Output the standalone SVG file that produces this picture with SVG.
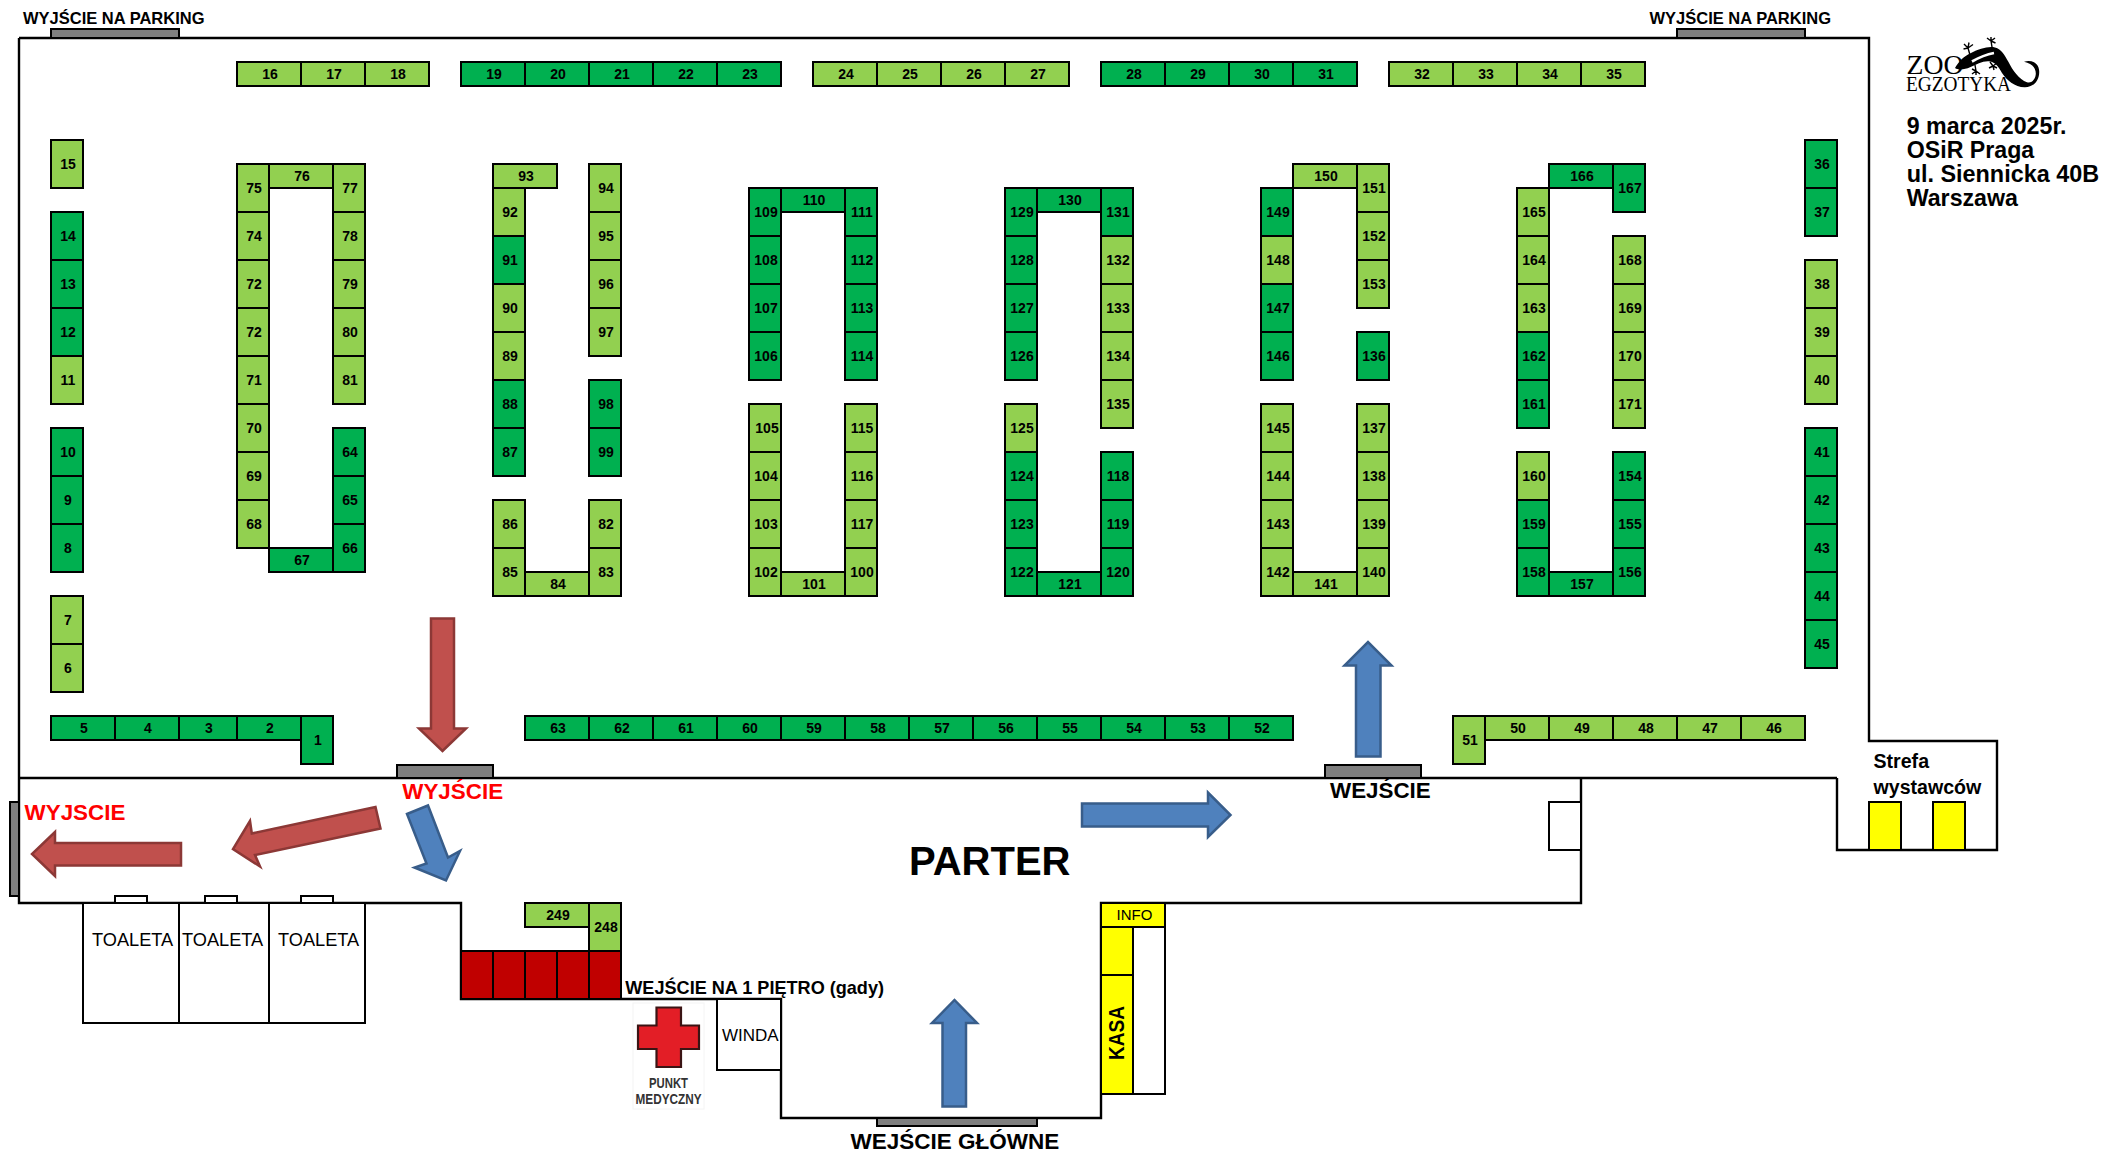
<svg xmlns="http://www.w3.org/2000/svg" width="2109" height="1155" viewBox="0 0 2109 1155">
<style>
text{font-family:"Liberation Sans",Arial,sans-serif;fill:#000}
.l,.d,.r,.y,.g,.w{stroke:#000;stroke-width:2}
.l{fill:#92D050}.d{fill:#00B050}.r{fill:#C00000}.y{fill:#FFFF00}.g{fill:#7F7F7F}.w{fill:#fff}
.wall{fill:none;stroke:#000;stroke-width:2.4}
.s text,text.n{font-size:14px;font-weight:700;text-anchor:middle}
.b{font-weight:700}
.ar{fill:#C0504D;stroke:#8C3836;stroke-width:2.5}
.ab{fill:#4F81BD;stroke:#385D8A;stroke-width:2.5}
.red{fill:#FF0000;font-weight:700;font-size:22.4px}
</style>
<rect width="2109" height="1155" fill="#fff"/>
<g id="walls">
<path class="wall" d="M19 38H1869V741H1997V850H1837V778"/>
<path class="wall" d="M19 778H1837"/>
<path class="wall" d="M19 38V903H461V999H781V1118H1101V903H1581V778"/>
</g>
<g id="doors">
<rect id="door-parking-left" class="g" x="51" y="29" width="128" height="9"/>
<rect id="door-parking-right" class="g" x="1677" y="29" width="128" height="9"/>
<rect id="door-exit" class="g" x="397" y="765" width="96" height="13"/>
<rect id="door-entry" class="g" x="1325" y="765" width="96" height="13"/>
<rect id="door-exit-left" class="g" x="10" y="802" width="9" height="94"/>
<rect id="door-main" class="g" x="877" y="1118" width="160" height="8"/>
</g>
<g id="toilets">
<rect class="w" x="83" y="903" width="96" height="120"/><rect class="w" x="179" y="903" width="90" height="120"/><rect class="w" x="269" y="903" width="96" height="120"/>
<rect class="w" x="115" y="896" width="32" height="7"/><rect class="w" x="205" y="896" width="32" height="7"/><rect class="w" x="301" y="896" width="32" height="7"/>
<text x="92" y="946" font-size="18.2">TOALETA</text><text x="182" y="946" font-size="18.2">TOALETA</text><text x="278" y="946" font-size="18.2">TOALETA</text>
</g>
<g id="winda"><rect class="w" x="717" y="999" width="64" height="71"/><text x="722" y="1041" font-size="17">WINDA</text></g>
<g id="small-room"><rect class="w" x="1549" y="802" width="32" height="48"/></g>
<g id="kasa">
<rect class="w" x="1133" y="927" width="32" height="167"/>
<rect class="y" x="1101" y="903" width="64" height="24"/>
<rect class="y" x="1101" y="927" width="32" height="48"/>
<rect class="y" x="1101" y="975" width="32" height="119"/>
<text x="1116.5" y="920" font-size="15">INFO</text>
<text transform="translate(1124 1060) rotate(-90)" class="b" font-size="22" textLength="54" lengthAdjust="spacingAndGlyphs">KASA</text>
</g>
<g id="strefa-wystawcow">
<rect class="y" x="1869" y="802" width="32" height="48"/><rect class="y" x="1933" y="802" width="32" height="48"/>
<text class="b" x="1873.5" y="767.5" font-size="19.6">Strefa</text><text class="b" x="1873.5" y="793.5" font-size="19.6">wystawców</text>
</g>
<g id="red-stands">
<rect class="r" x="461" y="951" width="32" height="48"/><rect class="r" x="493" y="951" width="32" height="48"/><rect class="r" x="525" y="951" width="32" height="48"/><rect class="r" x="557" y="951" width="32" height="48"/><rect class="r" x="589" y="951" width="32" height="48"/>
</g>
<g id="stands" class="s">
<g id="s16"><rect class="l" x="237" y="62" width="64" height="24"/><text x="270" y="79">16</text></g>
<g id="s17"><rect class="l" x="301" y="62" width="64" height="24"/><text x="334" y="79">17</text></g>
<g id="s18"><rect class="l" x="365" y="62" width="64" height="24"/><text x="398" y="79">18</text></g>
<g id="s19"><rect class="d" x="461" y="62" width="64" height="24"/><text x="494" y="79">19</text></g>
<g id="s20"><rect class="d" x="525" y="62" width="64" height="24"/><text x="558" y="79">20</text></g>
<g id="s21"><rect class="d" x="589" y="62" width="64" height="24"/><text x="622" y="79">21</text></g>
<g id="s22"><rect class="d" x="653" y="62" width="64" height="24"/><text x="686" y="79">22</text></g>
<g id="s23"><rect class="d" x="717" y="62" width="64" height="24"/><text x="750" y="79">23</text></g>
<g id="s24"><rect class="l" x="813" y="62" width="64" height="24"/><text x="846" y="79">24</text></g>
<g id="s25"><rect class="l" x="877" y="62" width="64" height="24"/><text x="910" y="79">25</text></g>
<g id="s26"><rect class="l" x="941" y="62" width="64" height="24"/><text x="974" y="79">26</text></g>
<g id="s27"><rect class="l" x="1005" y="62" width="64" height="24"/><text x="1038" y="79">27</text></g>
<g id="s28"><rect class="d" x="1101" y="62" width="64" height="24"/><text x="1134" y="79">28</text></g>
<g id="s29"><rect class="d" x="1165" y="62" width="64" height="24"/><text x="1198" y="79">29</text></g>
<g id="s30"><rect class="d" x="1229" y="62" width="64" height="24"/><text x="1262" y="79">30</text></g>
<g id="s31"><rect class="d" x="1293" y="62" width="64" height="24"/><text x="1326" y="79">31</text></g>
<g id="s32"><rect class="l" x="1389" y="62" width="64" height="24"/><text x="1422" y="79">32</text></g>
<g id="s33"><rect class="l" x="1453" y="62" width="64" height="24"/><text x="1486" y="79">33</text></g>
<g id="s34"><rect class="l" x="1517" y="62" width="64" height="24"/><text x="1550" y="79">34</text></g>
<g id="s35"><rect class="l" x="1581" y="62" width="64" height="24"/><text x="1614" y="79">35</text></g>
<g id="s15"><rect class="l" x="51" y="140" width="32" height="48"/><text x="68" y="169">15</text></g>
<g id="s14"><rect class="d" x="51" y="212" width="32" height="48"/><text x="68" y="241">14</text></g>
<g id="s13"><rect class="d" x="51" y="260" width="32" height="48"/><text x="68" y="289">13</text></g>
<g id="s12"><rect class="d" x="51" y="308" width="32" height="48"/><text x="68" y="337">12</text></g>
<g id="s11"><rect class="l" x="51" y="356" width="32" height="48"/><text x="68" y="385">11</text></g>
<g id="s10"><rect class="d" x="51" y="428" width="32" height="48"/><text x="68" y="457">10</text></g>
<g id="s9"><rect class="d" x="51" y="476" width="32" height="48"/><text x="68" y="505">9</text></g>
<g id="s8"><rect class="d" x="51" y="524" width="32" height="48"/><text x="68" y="553">8</text></g>
<g id="s7"><rect class="l" x="51" y="596" width="32" height="48"/><text x="68" y="625">7</text></g>
<g id="s6"><rect class="l" x="51" y="644" width="32" height="48"/><text x="68" y="673">6</text></g>
<g id="s5"><rect class="d" x="51" y="716" width="64" height="24"/><text x="84" y="733">5</text></g>
<g id="s4"><rect class="d" x="115" y="716" width="64" height="24"/><text x="148" y="733">4</text></g>
<g id="s3"><rect class="d" x="179" y="716" width="58" height="24"/><text x="209" y="733">3</text></g>
<g id="s2"><rect class="d" x="237" y="716" width="64" height="24"/><text x="270" y="733">2</text></g>
<g id="s1"><rect class="d" x="301" y="716" width="32" height="48"/><text x="318" y="745">1</text></g>
<g id="s75"><rect class="l" x="237" y="164" width="32" height="48"/><text x="254" y="193">75</text></g>
<g id="s74"><rect class="l" x="237" y="212" width="32" height="48"/><text x="254" y="241">74</text></g>
<g id="s72a"><rect class="l" x="237" y="260" width="32" height="48"/><text x="254" y="289">72</text></g>
<g id="s72b"><rect class="l" x="237" y="308" width="32" height="48"/><text x="254" y="337">72</text></g>
<g id="s71"><rect class="l" x="237" y="356" width="32" height="48"/><text x="254" y="385">71</text></g>
<g id="s70"><rect class="l" x="237" y="404" width="32" height="48"/><text x="254" y="433">70</text></g>
<g id="s69"><rect class="l" x="237" y="452" width="32" height="48"/><text x="254" y="481">69</text></g>
<g id="s68"><rect class="l" x="237" y="500" width="32" height="48"/><text x="254" y="529">68</text></g>
<g id="s76"><rect class="l" x="269" y="164" width="64" height="24"/><text x="302" y="181">76</text></g>
<g id="s67"><rect class="d" x="269" y="548" width="64" height="24"/><text x="302" y="565">67</text></g>
<g id="s77"><rect class="l" x="333" y="164" width="32" height="48"/><text x="350" y="193">77</text></g>
<g id="s78"><rect class="l" x="333" y="212" width="32" height="48"/><text x="350" y="241">78</text></g>
<g id="s79"><rect class="l" x="333" y="260" width="32" height="48"/><text x="350" y="289">79</text></g>
<g id="s80"><rect class="l" x="333" y="308" width="32" height="48"/><text x="350" y="337">80</text></g>
<g id="s81"><rect class="l" x="333" y="356" width="32" height="48"/><text x="350" y="385">81</text></g>
<g id="s64"><rect class="d" x="333" y="428" width="32" height="48"/><text x="350" y="457">64</text></g>
<g id="s65"><rect class="d" x="333" y="476" width="32" height="48"/><text x="350" y="505">65</text></g>
<g id="s66"><rect class="d" x="333" y="524" width="32" height="48"/><text x="350" y="553">66</text></g>
<g id="s93"><rect class="l" x="493" y="164" width="64" height="24"/><text x="526" y="181">93</text></g>
<g id="s92"><rect class="l" x="493" y="188" width="32" height="48"/><text x="510" y="217">92</text></g>
<g id="s91"><rect class="d" x="493" y="236" width="32" height="48"/><text x="510" y="265">91</text></g>
<g id="s90"><rect class="l" x="493" y="284" width="32" height="48"/><text x="510" y="313">90</text></g>
<g id="s89"><rect class="l" x="493" y="332" width="32" height="48"/><text x="510" y="361">89</text></g>
<g id="s88"><rect class="d" x="493" y="380" width="32" height="48"/><text x="510" y="409">88</text></g>
<g id="s87"><rect class="d" x="493" y="428" width="32" height="48"/><text x="510" y="457">87</text></g>
<g id="s86"><rect class="l" x="493" y="500" width="32" height="48"/><text x="510" y="529">86</text></g>
<g id="s85"><rect class="l" x="493" y="548" width="32" height="48"/><text x="510" y="577">85</text></g>
<g id="s84"><rect class="l" x="525" y="572" width="64" height="24"/><text x="558" y="589">84</text></g>
<g id="s83"><rect class="l" x="589" y="548" width="32" height="48"/><text x="606" y="577">83</text></g>
<g id="s82"><rect class="l" x="589" y="500" width="32" height="48"/><text x="606" y="529">82</text></g>
<g id="s94"><rect class="l" x="589" y="164" width="32" height="48"/><text x="606" y="193">94</text></g>
<g id="s95"><rect class="l" x="589" y="212" width="32" height="48"/><text x="606" y="241">95</text></g>
<g id="s96"><rect class="l" x="589" y="260" width="32" height="48"/><text x="606" y="289">96</text></g>
<g id="s97"><rect class="l" x="589" y="308" width="32" height="48"/><text x="606" y="337">97</text></g>
<g id="s98"><rect class="d" x="589" y="380" width="32" height="48"/><text x="606" y="409">98</text></g>
<g id="s99"><rect class="d" x="589" y="428" width="32" height="48"/><text x="606" y="457">99</text></g>
<g id="s109"><rect class="d" x="749" y="188" width="32" height="48"/><text x="766" y="217">109</text></g>
<g id="s108"><rect class="d" x="749" y="236" width="32" height="48"/><text x="766" y="265">108</text></g>
<g id="s107"><rect class="d" x="749" y="284" width="32" height="48"/><text x="766" y="313">107</text></g>
<g id="s106"><rect class="d" x="749" y="332" width="32" height="48"/><text x="766" y="361">106</text></g>
<g id="s110"><rect class="d" x="781" y="188" width="64" height="24"/><text x="814" y="205">110</text></g>
<g id="s111"><rect class="d" x="845" y="188" width="32" height="48"/><text x="862" y="217">111</text></g>
<g id="s112"><rect class="d" x="845" y="236" width="32" height="48"/><text x="862" y="265">112</text></g>
<g id="s113"><rect class="d" x="845" y="284" width="32" height="48"/><text x="862" y="313">113</text></g>
<g id="s114"><rect class="d" x="845" y="332" width="32" height="48"/><text x="862" y="361">114</text></g>
<g id="s105"><rect class="l" x="749" y="404" width="32" height="48"/><text x="767" y="433">105</text></g>
<g id="s104"><rect class="l" x="749" y="452" width="32" height="48"/><text x="766" y="481">104</text></g>
<g id="s103"><rect class="l" x="749" y="500" width="32" height="48"/><text x="766" y="529">103</text></g>
<g id="s102"><rect class="l" x="749" y="548" width="32" height="48"/><text x="766" y="577">102</text></g>
<g id="s101"><rect class="l" x="781" y="572" width="64" height="24"/><text x="814" y="589">101</text></g>
<g id="s100"><rect class="l" x="845" y="548" width="32" height="48"/><text x="862" y="577">100</text></g>
<g id="s117"><rect class="l" x="845" y="500" width="32" height="48"/><text x="862" y="529">117</text></g>
<g id="s116"><rect class="l" x="845" y="452" width="32" height="48"/><text x="862" y="481">116</text></g>
<g id="s115"><rect class="l" x="845" y="404" width="32" height="48"/><text x="862" y="433">115</text></g>
<g id="s129"><rect class="d" x="1005" y="188" width="32" height="48"/><text x="1022" y="217">129</text></g>
<g id="s128"><rect class="d" x="1005" y="236" width="32" height="48"/><text x="1022" y="265">128</text></g>
<g id="s127"><rect class="d" x="1005" y="284" width="32" height="48"/><text x="1022" y="313">127</text></g>
<g id="s126"><rect class="d" x="1005" y="332" width="32" height="48"/><text x="1022" y="361">126</text></g>
<g id="s125"><rect class="l" x="1005" y="404" width="32" height="48"/><text x="1022" y="433">125</text></g>
<g id="s124"><rect class="d" x="1005" y="452" width="32" height="48"/><text x="1022" y="481">124</text></g>
<g id="s123"><rect class="d" x="1005" y="500" width="32" height="48"/><text x="1022" y="529">123</text></g>
<g id="s122"><rect class="d" x="1005" y="548" width="32" height="48"/><text x="1022" y="577">122</text></g>
<g id="s130"><rect class="d" x="1037" y="188" width="64" height="24"/><text x="1070" y="205">130</text></g>
<g id="s121"><rect class="d" x="1037" y="572" width="64" height="24"/><text x="1070" y="589">121</text></g>
<g id="s131"><rect class="d" x="1101" y="188" width="32" height="48"/><text x="1118" y="217">131</text></g>
<g id="s132"><rect class="l" x="1101" y="236" width="32" height="48"/><text x="1118" y="265">132</text></g>
<g id="s133"><rect class="l" x="1101" y="284" width="32" height="48"/><text x="1118" y="313">133</text></g>
<g id="s134"><rect class="l" x="1101" y="332" width="32" height="48"/><text x="1118" y="361">134</text></g>
<g id="s135"><rect class="l" x="1101" y="380" width="32" height="48"/><text x="1118" y="409">135</text></g>
<g id="s118"><rect class="d" x="1101" y="452" width="32" height="48"/><text x="1118" y="481">118</text></g>
<g id="s119"><rect class="d" x="1101" y="500" width="32" height="48"/><text x="1118" y="529">119</text></g>
<g id="s120"><rect class="d" x="1101" y="548" width="32" height="48"/><text x="1118" y="577">120</text></g>
<g id="s149"><rect class="d" x="1261" y="188" width="32" height="48"/><text x="1278" y="217">149</text></g>
<g id="s148"><rect class="l" x="1261" y="236" width="32" height="48"/><text x="1278" y="265">148</text></g>
<g id="s147"><rect class="d" x="1261" y="284" width="32" height="48"/><text x="1278" y="313">147</text></g>
<g id="s146"><rect class="d" x="1261" y="332" width="32" height="48"/><text x="1278" y="361">146</text></g>
<g id="s145"><rect class="l" x="1261" y="404" width="32" height="48"/><text x="1278" y="433">145</text></g>
<g id="s144"><rect class="l" x="1261" y="452" width="32" height="48"/><text x="1278" y="481">144</text></g>
<g id="s143"><rect class="l" x="1261" y="500" width="32" height="48"/><text x="1278" y="529">143</text></g>
<g id="s142"><rect class="l" x="1261" y="548" width="32" height="48"/><text x="1278" y="577">142</text></g>
<g id="s150"><rect class="l" x="1293" y="164" width="64" height="24"/><text x="1326" y="181">150</text></g>
<g id="s141"><rect class="l" x="1293" y="572" width="64" height="24"/><text x="1326" y="589">141</text></g>
<g id="s151"><rect class="l" x="1357" y="164" width="32" height="48"/><text x="1374" y="193">151</text></g>
<g id="s152"><rect class="l" x="1357" y="212" width="32" height="48"/><text x="1374" y="241">152</text></g>
<g id="s153"><rect class="l" x="1357" y="260" width="32" height="48"/><text x="1374" y="289">153</text></g>
<g id="s136"><rect class="d" x="1357" y="332" width="32" height="48"/><text x="1374" y="361">136</text></g>
<g id="s137"><rect class="l" x="1357" y="404" width="32" height="48"/><text x="1374" y="433">137</text></g>
<g id="s138"><rect class="l" x="1357" y="452" width="32" height="48"/><text x="1374" y="481">138</text></g>
<g id="s139"><rect class="l" x="1357" y="500" width="32" height="48"/><text x="1374" y="529">139</text></g>
<g id="s140"><rect class="l" x="1357" y="548" width="32" height="48"/><text x="1374" y="577">140</text></g>
<g id="s165"><rect class="l" x="1517" y="188" width="32" height="48"/><text x="1534" y="217">165</text></g>
<g id="s164"><rect class="l" x="1517" y="236" width="32" height="48"/><text x="1534" y="265">164</text></g>
<g id="s163"><rect class="l" x="1517" y="284" width="32" height="48"/><text x="1534" y="313">163</text></g>
<g id="s162"><rect class="d" x="1517" y="332" width="32" height="48"/><text x="1534" y="361">162</text></g>
<g id="s161"><rect class="d" x="1517" y="380" width="32" height="48"/><text x="1534" y="409">161</text></g>
<g id="s160"><rect class="l" x="1517" y="452" width="32" height="48"/><text x="1534" y="481">160</text></g>
<g id="s159"><rect class="d" x="1517" y="500" width="32" height="48"/><text x="1534" y="529">159</text></g>
<g id="s158"><rect class="d" x="1517" y="548" width="32" height="48"/><text x="1534" y="577">158</text></g>
<g id="s166"><rect class="d" x="1549" y="164" width="64" height="24"/><text x="1582" y="181">166</text></g>
<g id="s157"><rect class="d" x="1549" y="572" width="64" height="24"/><text x="1582" y="589">157</text></g>
<g id="s167"><rect class="d" x="1613" y="164" width="32" height="48"/><text x="1630" y="193">167</text></g>
<g id="s168"><rect class="l" x="1613" y="236" width="32" height="48"/><text x="1630" y="265">168</text></g>
<g id="s169"><rect class="l" x="1613" y="284" width="32" height="48"/><text x="1630" y="313">169</text></g>
<g id="s170"><rect class="l" x="1613" y="332" width="32" height="48"/><text x="1630" y="361">170</text></g>
<g id="s171"><rect class="l" x="1613" y="380" width="32" height="48"/><text x="1630" y="409">171</text></g>
<g id="s154"><rect class="d" x="1613" y="452" width="32" height="48"/><text x="1630" y="481">154</text></g>
<g id="s155"><rect class="d" x="1613" y="500" width="32" height="48"/><text x="1630" y="529">155</text></g>
<g id="s156"><rect class="d" x="1613" y="548" width="32" height="48"/><text x="1630" y="577">156</text></g>
<g id="s36"><rect class="d" x="1805" y="140" width="32" height="48"/><text x="1822" y="169">36</text></g>
<g id="s37"><rect class="d" x="1805" y="188" width="32" height="48"/><text x="1822" y="217">37</text></g>
<g id="s38"><rect class="l" x="1805" y="260" width="32" height="48"/><text x="1822" y="289">38</text></g>
<g id="s39"><rect class="l" x="1805" y="308" width="32" height="48"/><text x="1822" y="337">39</text></g>
<g id="s40"><rect class="l" x="1805" y="356" width="32" height="48"/><text x="1822" y="385">40</text></g>
<g id="s41"><rect class="d" x="1805" y="428" width="32" height="48"/><text x="1822" y="457">41</text></g>
<g id="s42"><rect class="d" x="1805" y="476" width="32" height="48"/><text x="1822" y="505">42</text></g>
<g id="s43"><rect class="d" x="1805" y="524" width="32" height="48"/><text x="1822" y="553">43</text></g>
<g id="s44"><rect class="d" x="1805" y="572" width="32" height="48"/><text x="1822" y="601">44</text></g>
<g id="s45"><rect class="d" x="1805" y="620" width="32" height="48"/><text x="1822" y="649">45</text></g>
<g id="s63"><rect class="d" x="525" y="716" width="64" height="24"/><text x="558" y="733">63</text></g>
<g id="s62"><rect class="d" x="589" y="716" width="64" height="24"/><text x="622" y="733">62</text></g>
<g id="s61"><rect class="d" x="653" y="716" width="64" height="24"/><text x="686" y="733">61</text></g>
<g id="s60"><rect class="d" x="717" y="716" width="64" height="24"/><text x="750" y="733">60</text></g>
<g id="s59"><rect class="d" x="781" y="716" width="64" height="24"/><text x="814" y="733">59</text></g>
<g id="s58"><rect class="d" x="845" y="716" width="64" height="24"/><text x="878" y="733">58</text></g>
<g id="s57"><rect class="d" x="909" y="716" width="64" height="24"/><text x="942" y="733">57</text></g>
<g id="s56"><rect class="d" x="973" y="716" width="64" height="24"/><text x="1006" y="733">56</text></g>
<g id="s55"><rect class="d" x="1037" y="716" width="64" height="24"/><text x="1070" y="733">55</text></g>
<g id="s54"><rect class="d" x="1101" y="716" width="64" height="24"/><text x="1134" y="733">54</text></g>
<g id="s53"><rect class="d" x="1165" y="716" width="64" height="24"/><text x="1198" y="733">53</text></g>
<g id="s52"><rect class="d" x="1229" y="716" width="64" height="24"/><text x="1262" y="733">52</text></g>
<g id="s51"><rect class="l" x="1453" y="716" width="32" height="48"/><text x="1470" y="745">51</text></g>
<g id="s50"><rect class="l" x="1485" y="716" width="64" height="24"/><text x="1518" y="733">50</text></g>
<g id="s49"><rect class="l" x="1549" y="716" width="64" height="24"/><text x="1582" y="733">49</text></g>
<g id="s48"><rect class="l" x="1613" y="716" width="64" height="24"/><text x="1646" y="733">48</text></g>
<g id="s47"><rect class="l" x="1677" y="716" width="64" height="24"/><text x="1710" y="733">47</text></g>
<g id="s46"><rect class="l" x="1741" y="716" width="64" height="24"/><text x="1774" y="733">46</text></g>
<g id="s249"><rect class="l" x="525" y="903" width="64" height="24"/><text x="558" y="920">249</text></g>
<g id="s248"><rect class="l" x="589" y="903" width="32" height="48"/><text x="606" y="932">248</text></g>
</g>
<g id="connectors">
<polygon class="ar" points="431,618.5 454,618.5 454,728.5 466,728.5 442.5,751 419,728.5 431,728.5"/>
<polygon class="ar" points="181,843 181,865.5 55,865.5 55,876 32,854 55,832 55,843"/>
<polygon class="ar" points="375.5,807 380.5,828.5 255,855 260,866.5 233,849 250,821 251.8,833.5"/>
<polygon class="ab" points="407,814 428,805.5 448,857.5 460,851 446,880.5 414.5,867.5 426.5,863.5"/>
<polygon class="ab" points="1082,803.5 1208,803.5 1208,792.5 1230.5,815 1208,837 1208,826.5 1082,826.5"/>
<polygon class="ab" points="1356,756.5 1356,665.5 1344.5,665.5 1368,642 1391.5,665.5 1380.5,665.5 1380.5,756.5"/>
<polygon class="ab" points="942.5,1106.5 942.5,1023 932,1023 954.5,1000 977,1023 966,1023 966,1106.5"/>
</g>
<g id="punkt-medyczny">
<rect x="633" y="1003" width="71" height="106" fill="#fff" stroke="#f4f4f4"/>
<path d="M656.5 1007.5H681V1025.5H699V1049H681V1067H656.5V1049H638V1025.5H656.5Z" fill="#E31E26" stroke="#3A1414" stroke-width="2.2"/>
<text x="668.5" y="1087.5" class="b" font-size="14" text-anchor="middle" textLength="39" lengthAdjust="spacingAndGlyphs" style="fill:#333">PUNKT</text>
<text x="668.5" y="1103.5" class="b" font-size="14" text-anchor="middle" textLength="66" lengthAdjust="spacingAndGlyphs" style="fill:#333">MEDYCZNY</text>
</g>
<g id="logo">
<text x="1906.5" y="73.5" font-size="27" style="font-family:'Liberation Serif',serif" textLength="57" lengthAdjust="spacingAndGlyphs">ZOO</text>
<text x="1906" y="90.7" font-size="20" style="font-family:'Liberation Serif',serif" textLength="105" lengthAdjust="spacingAndGlyphs">EGZOTYKA</text>
<path d="M1955 68C1959 61 1964 56 1971 53C1979 49 1988 46 1995 47.5C2001.5 49 2004.5 55 2008.5 62C2012.5 70 2019 79.5 2027 82.3C2032 83.5 2035.5 79 2035.8 74C2036 68 2032 63.3 2024 61.7C2032 59.5 2038.8 63 2039.2 71C2039.6 80 2034 87 2025 87.2C2015 87.4 2006.5 80 2002 73C1998.5 67 1996 62.5 1990 61.5C1983 60.5 1977 64.5 1970 67.3C1965 69.5 1958.5 70.5 1955 68Z" fill="#000"/>
<path d="M1972 61.5C1979 57.5 1986 54.5 1994 53" fill="none" stroke="#fff" stroke-width="2.6"/>
<path d="M1970 55L1968 48M1968 48L1964 44M1968 48L1969 42.5M1968 48L1973 44.5M1968 48L1963.5 49M1992 47L1991 41M1991 41L1987 38M1991 41L1991 37M1991 41L1995 38M1991 41L1995.5 43M1975 65L1976 71M1976 71L1972 74M1976 71L1976 75M1976 71L1980 74M1976 71L1972 69M1990 62L1993 66M1993 66L1989 68M1993 66L1994 70M1993 66L1997 68M1993 66L1997 63" fill="none" stroke="#000" stroke-width="1.4"/>
</g>
<g id="labels">
<text class="b" x="23" y="24" font-size="16.5">WYJŚCIE NA PARKING</text>
<text class="b" x="1649.5" y="24" font-size="16.5">WYJŚCIE NA PARKING</text>
<text class="b" x="1906.7" y="134" font-size="23.2">9 marca 2025r.</text>
<text class="b" x="1906.7" y="158" font-size="23.2">OSiR Praga</text>
<text class="b" x="1906.7" y="182" font-size="23.4">ul. Siennicka 40B</text>
<text class="b" x="1906.7" y="206" font-size="23.2">Warszawa</text>
<text class="red" x="402.3" y="798.5" style="fill:#f00">WYJŚCIE</text>
<text class="red" x="24.6" y="820" style="fill:#f00">WYJSCIE</text>
<text class="b" x="1330" y="798" font-size="22.4">WEJŚCIE</text>
<text class="b" x="909" y="875" font-size="40">PARTER</text>
<text class="b" x="850.4" y="1149" font-size="22.5">WEJŚCIE GŁÓWNE</text>
<text class="b" x="625.3" y="993.5" font-size="18.1">WEJŚCIE NA 1 PIĘTRO (gady)</text>
</g>
</svg>
